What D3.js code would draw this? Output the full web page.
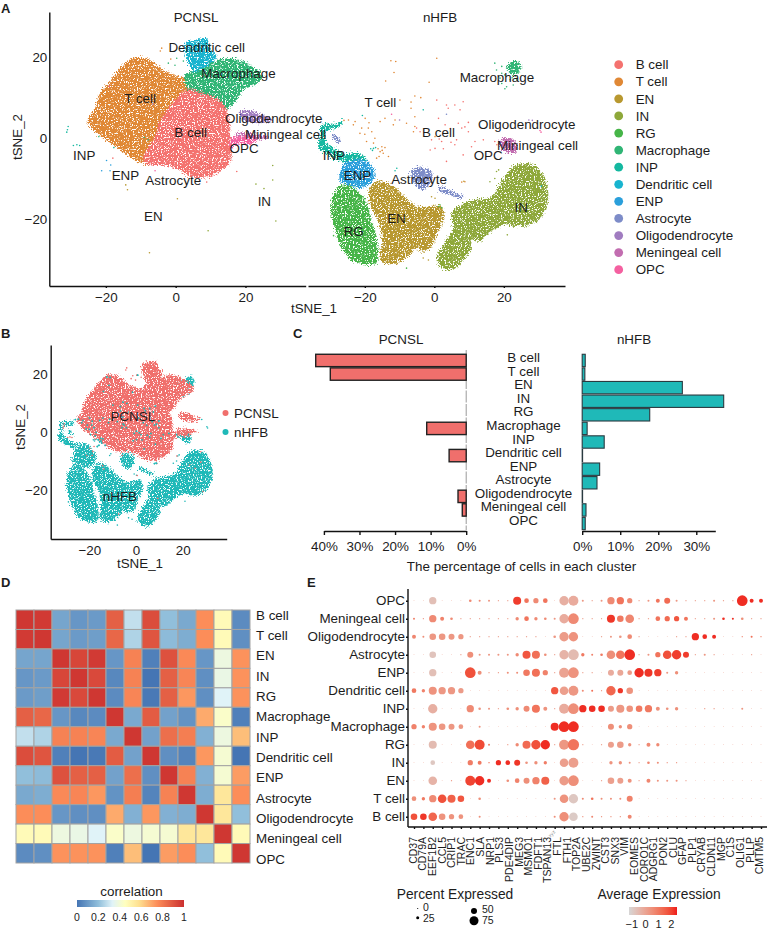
<!DOCTYPE html>
<html><head><meta charset="utf-8">
<script src="https://cdn.jsdelivr.net/npm/d3@7"></script>
<style>
html,body{margin:0;padding:0;background:#fff}
svg{display:block}
text{font-family:"Liberation Sans",Arial,sans-serif;fill:#1c1c1c}
</style></head><body>
<svg id="chart" width="767" height="930"></svg>
<script>
// ---------- DATA ----------
const clusters = ["B cell","T cell","EN","IN","RG","Macrophage","INP","Dendritic cell","ENP","Astrocyte","Oligodendrocyte","Meningeal cell","OPC"];
const clusterColors = ["#f4726f","#e08835","#b8982f","#8ea83a","#46b548","#30b575","#14b8a0","#18b4cf","#2a9fdb","#7d8cc8","#a07cc0","#c26db0","#f460a0"];

// Dense t-SNE clouds are summarised as outlines in t-SNE units.
const pcnslOutlines = [
 ["T cell",[[-25.2,4.1],[-23.1,7.4],[-21.7,11.1],[-19.3,13.5],[-17.4,15.6],[-14.5,18.5],[-11.2,20],[-7.4,19.3],[-2.6,16.4],[2.2,15],[7,14],[9,9],[2.2,1],[-3.5,-5.5],[-7.4,-6.6],[-11.7,-5.3],[-15,-3.3],[-19.3,-.8],[-22.6,1.2]]],
 ["Macrophage",[[3,16],[6,16.8],[9.8,18.5],[14.6,19.7],[19.4,18.9],[25.1,15.2],[22.7,13.1],[19.4,11.9],[17.5,9.4],[15.1,7.4],[11,6.5],[6,9],[3,13]]],
 ["Dendritic cell",[[2.7,23.4],[6,24.2],[8.9,24.6],[9.8,22.2],[11.7,20.1],[7.9,17.2],[5.5,16.4],[3.2,19.7]]],
 ["B cell",[[3.2,11.9],[7.9,11.1],[12.7,9.4],[15.4,4.9],[15.6,0],[15.8,-5.7],[12.7,-8.2],[8.9,-9.7],[4.1,-9.4],[1.2,-7.8],[-3.5,-6.6],[-7.4,-6.6],[-9.3,-4.9],[-6,0],[-4,4.9],[-.7,9]]],
 ["Oligodendrocyte",[[18.4,6.6],[22.2,6.7],[24.9,5.7],[28,4.5],[23.7,3.7],[19.4,4.5]]],
 ["Meningeal cell",[[17.5,1.2],[22.2,1.2],[26.6,.4],[23.2,-.4],[18.4,0]]],
 ["OPC",[[16,0],[20.3,.4],[23.2,-.4],[21.3,-1.6],[18.4,-1.2],[16,-2.5]]]
];
const nhfbOutlines = [
 ["INP",[[-32.4,3.3],[-27.6,3.7],[-26.7,4.5],[-26.5,3.3],[-29.1,2.3],[-31.3,1.6],[-31,-.8],[-27.6,-3.1],[-25.7,-3.9],[-22,-3.7],[-19.6,-4.9],[-19,-6.2],[-22.8,-6.6],[-27.1,-5.6],[-31.4,-3.7],[-33.4,-2.1],[-32.6,.8]]],
 ["RG",[[-29,-14],[-26.7,-11.5],[-22.8,-12.3],[-19.5,-15.6],[-18,-20.5],[-17,-23],[-16,-28.7],[-17,-31],[-22.8,-30.4],[-25.9,-28],[-28.3,-23],[-29.7,-18.1]]],
 ["EN",[[-18.5,-12.3],[-16.6,-10.7],[-12.3,-11.5],[-8,-14.8],[-4.6,-16.8],[2.1,-16.8],[2.9,-19.7],[1,-23.4],[-1,-27.1],[-4,-27.9],[-5,-27],[-7.5,-29.3],[-11.8,-31],[-15.3,-30.2],[-15,-25.5],[-16,-20.5],[-18.4,-16.4]]],
 ["ENP",[[-26.7,-7.4],[-24.8,-5.6],[-19,-5.7],[-16.9,-9],[-19,-11.5],[-21.9,-12.3],[-24.7,-11.3],[-27.1,-10.7]]],
 ["IN",[[5,-18.5],[9.8,-15.6],[16.5,-14.4],[19.4,-10.7],[22.7,-7],[27.5,-6.2],[31.4,-9],[32.8,-14],[31.4,-18.9],[26.1,-21.8],[20.3,-21.3],[16.5,-23],[12.7,-25.5],[10.5,-25],[10.8,-27.1],[8,-30.6],[4,-32.6],[.7,-30.2],[3.1,-25.5],[5.5,-22.2]]],
 ["Astrocyte",[[-6.5,-7.8],[-3.6,-7.2],[-.8,-8.2],[-1,-11.1],[-3.6,-12.7],[-6,-10.7]]],
 ["Astrocyte",[[1.6,-11.9],[5,-13.1],[8.6,-14.6],[7.9,-14.9],[4.5,-14],[1.3,-12.7]]],
 ["Astrocyte",[[-29.1,1.2],[-27.1,-.4],[-26.8,-1.2],[-27.9,-.8],[-29.4,.7]]],
 ["Meningeal cell",[[18.4,-1],[20.3,0],[23.2,-.4],[23.7,-3.3],[21.3,-3.7],[19.8,-2.5]]],
 ["Macrophage",[[21.3,18.2],[23.2,19.3],[25.1,17.7],[23.2,15.6],[21.3,16.4]]]
];
// Individually visible outlier cells: [cluster index, tSNE_1, tSNE_2]
const pcnslStray = [[6,-30.8,2.9],[6,-31.2,1.5],[6,-31,2.1],[6,-29.3,-1.8],[6,-28.3,-1.6],[6,-27.5,-1.8],[8,-19.8,-5.5],[8,-18.6,-6.6],[8,-21.2,-8],[8,-18.8,-8],[0,-18,-4.9],[2,-14.3,-11.5],[2,-13.8,-12.7],[2,.5,-14.9],[2,-7.5,-28.2],[3,27.8,-6.7],[3,27.8,-10.3],[3,23,-11.3],[3,25.3,-12.4],[3,28.7,-20.4],[3,9.3,-22.8],[12,-5.9,-8],[0,17.5,-8.2],[0,8.9,-10.8],[1,-4,22.2],[1,-4.4,21.5],[5,-2.1,18.5],[5,.3,19.7],[5,-.2,18],[5,2.2,19],[6,-17.7,-2.3],[5,-22,.4],[5,-9,.2],[6,-7.9,-.4],[10,-6.5,8.4],[12,-19,12.8],[1,-1.4,19.5]];
const nhfbStray = [[1,-12.5,19.1],[1,-11.1,18.9],[1,-11.6,16.2],[1,-14,14.1],[1,.7,19.7],[1,-1.5,13.8],[1,-9.9,9.4],[1,-5.6,10.4],[1,-3.9,10],[1,-6.7,8.9],[1,-6.7,7.4],[1,-5.6,5.3],[1,-8,3.7],[1,-11.3,4.5],[1,-14.2,4.9],[1,-15.6,4.1],[1,-19.9,4.9],[1,-22.8,4.1],[1,-24.7,4.5],[1,-26,4.4],[1,-23.3,3.3],[1,-20.9,2.5],[1,-19,2.5],[1,-18,1.6],[1,-21.4,1.2],[1,-17.1,0],[1,-19.5,-.8],[1,-17.5,-1.2],[1,-15.1,-2.1],[1,-14.2,-2.3],[1,-15.6,-3.3],[1,-14.7,-3.7],[1,-15.9,-4.5],[1,-13.2,-4.5],[1,-16.6,-4.9],[1,-11.8,3.3],[1,-5.6,2.9],[1,-6,1.6],[1,7.9,-10.8],[1,8.8,-10.7],[1,.2,.4],[1,-18.8,3.8],[1,-20,1],[1,-16.2,-2.6],[1,-15,-3],
 [0,.7,9.4],[0,3.5,8.2],[0,5.9,8.2],[0,7.4,7],[0,8.3,9],[0,4,7.4],[0,1.2,4.9],[0,3.1,3.3],[0,6.9,3.7],[0,9.8,3.9],[0,7.9,2.5],[0,9.8,1.6],[0,6.4,-.4],[0,5.9,-1.6],[0,2.1,-.8],[0,-.8,-.4],[0,.2,-2.5],[0,2.6,-2.6],[0,-1.2,-2.9],[0,-4.1,1.6],[0,-5.1,2.5],[0,11.7,-.8],[0,10.7,-2.1],[0,14.1,-.4],[0,3.5,-5.7],[0,8.3,-4.1],[0,17.4,-.8],[0,18,-1.6],[0,4.6,2.4],[0,1.4,-.2],[0,4.8,-1],[0,8.8,2.8],
 [12,30.7,1.5],[12,30.4,1.9],[10,27.2,4.5],[10,28.2,4.4],[9,3.5,5.9],[12,-12.3,5.9],[10,-10,4.5],
 [6,-17.5,-2.5],[6,-16.9,-2.3],[6,-18.3,-2.6],[6,-11.3,-8],[6,-10.8,-7.4],[6,-3.2,7],[6,-20.7,5.6],[6,-17.8,-3],
 [4,1.2,-16.8],[4,2.1,-17.1],[4,1.6,-16.4],[3,17.9,-8.2],[3,17.4,-9.9],[3,18.5,-7.8],[3,16,-10.7],[3,20,-14.4],[3,21,-23.8],[4,-8,-32],[4,-29,-24],[2,.2,-14.8],[2,-.8,-14.4],[2,-1.7,-30],[2,-3.2,-29.5],[2,8.5,-10.6],[7,30.8,-11.8],
 [5,17.4,18.5],[5,19.4,17.7],[5,20.8,17.3],[5,19.4,16],[5,20.3,15.6],[5,18.9,14.8],[5,21.8,14.4],[5,19.4,13.5],[5,20.8,12.7],[5,22.7,13.1],[5,20.3,12.2],[5,23.7,14.4],[5,17.9,16.8],[5,22.4,14.9],[5,24.3,16.3]];

const facetLabelsA = [
 ["Dendritic cell",8.9,22.4],["Macrophage",18,15.9],["T cell",-10.2,9.9],["Oligodendrocyte",28.1,4.8],["Miningeal cell",31.5,.9],["B cell",4.3,1.5],["OPC",19.6,-2.6],["INP",-26.2,-4.1],["ENP",-14.4,-9.2],["Astrocyte",-.7,-10.3],["EN",-6.4,-19.3],["IN",25.4,-15.6]];
const facetLabelsB = [
 ["Macrophage",18,15.1],["T cell",-15.5,8.9],["Oligodendrocyte",26.6,3.4],["B cell",1.2,1.4],["Miningeal cell",29.7,-1.8],["OPC",15.5,-4.3],["INP",-28.9,-4.2],["ENP",-22.1,-9.2],["Astrocyte",-4.4,-10.2],["EN",-10.9,-19.8],["RG",-23.2,-22.9],["IN",25,-16.9]];

const tsneTicks = [-20,0,20];
const origins = ["PCNSL","nHFB"];
const originColors = ["#f06f6c","#1fb9b8"];
const originLabels = [["PCNSL",-1.4,5.4],["nHFB",-6.9,-22]];

// Panel C: percentage of cells per cluster
const barClusters = ["B cell","T cell","EN","IN","RG","Macrophage","INP","Dendritic cell","ENP","Astrocyte","Oligodendrocyte","Meningeal cell","OPC"];
const pcnslPct = [42.3,38.2,0,0,0,11.1,0,4.8,0,0,2.3,1.1,0];
const nhfbPct  = [.8,.7,26.4,37.3,17.8,1.3,5.8,.1,4.6,3.9,.1,1,.8];
const pcnslPctTicks = [40,30,20,10,0];
const nhfbPctTicks = [0,10,20,30];

// Panel D: correlation matrix
const corrLabels = clusters;
const corrValues = [
 [.98,.97,.13,.09,.10,.87,.28,.92,.20,.14,.75,.47,.06],
 [.97,.98,.13,.10,.11,.85,.25,.90,.19,.15,.75,.47,.07],
 [.13,.13,.98,.94,.97,.09,.78,.03,.91,.76,.09,.38,.74],
 [.09,.10,.94,.98,.93,.05,.78,.00,.87,.77,.07,.37,.74],
 [.10,.11,.97,.93,.98,.06,.77,.01,.87,.73,.07,.33,.74],
 [.87,.85,.09,.05,.06,.98,.14,.88,.12,.08,.69,.43,.03],
 [.28,.25,.78,.78,.77,.14,.98,.12,.83,.79,.16,.38,.65],
 [.92,.90,.03,.00,.01,.88,.12,.98,.07,.04,.73,.41,.00],
 [.20,.19,.91,.87,.87,.12,.83,.07,.98,.78,.16,.41,.72],
 [.14,.15,.76,.77,.73,.08,.79,.04,.78,.98,.15,.55,.75],
 [.75,.75,.09,.07,.07,.69,.16,.73,.16,.15,.98,.55,.20],
 [.47,.47,.38,.37,.33,.43,.38,.41,.41,.55,.55,.98,.47],
 [.06,.07,.74,.74,.74,.03,.65,.00,.72,.75,.20,.47,.98]];
const corrTicks = [0,.2,.4,.6,.8,1];
const corrStopValues = [0,.2,.33,.45,.58,.75,1];
const corrStops = ["#4575b4","#91bfdb","#e0f3f8","#ffffbf","#fee090","#fc8d59","#cb2f2f"];

// Panel E: dot plot
const dotRows = ["OPC","Meningeal cell","Oligodendrocyte","Astrocyte","ENP","Dendritic cell","INP","Macrophage","RG","IN","EN","T cell","B cell"];
const geneLabels = ["CD37","CD79A","EEF1B2","CCL5","CRIP1","TRAC","ENC1","SLA","NRP1","PLS3","PDE4DIP","MEG3","MSMO1","FDFT1","TSPAN13","FTL","FTH1","TOP2A","UBE2C","ZWINT","CST3","SNX3","VIM","EOMES","CORO1C","ADGRG1","PON2","CLU","GFAP","PLP1","CRYAB","CLDN11","MGP","C1S","OLIG1","PLLP","CMTM5"];
const dotPct = [
 [6,6,61,6,6,6,22,17,17,11,11,67,39,44,39,6,78,83,17,11,17,61,61,44,11,17,33,50,17,11,11,11,17,11,11,89,33,33],
 [17,11,61,33,22,11,11,11,11,11,11,28,39,28,22,17,78,89,11,11,11,67,55,72,11,11,39,44,44,33,11,11,17,22,17,22,11,11],
 [33,17,55,55,50,44,11,11,11,11,11,11,11,11,6,22,78,78,6,6,11,17,22,39,11,6,6,6,11,11,61,39,33,6,6,11,17,11],
 [6,6,55,6,6,11,50,17,17,17,17,28,67,67,22,11,78,89,28,17,22,72,72,89,11,17,44,72,78,50,11,17,11,6,6,6,11,6],
 [6,6,61,6,6,6,89,33,11,11,17,17,55,67,44,11,83,89,11,11,6,50,50,39,78,67,61,17,28,6,6,6,6,6,6,6,6,6],
 [39,28,67,61,61,44,6,6,6,6,6,6,6,6,6,61,72,83,17,17,11,78,44,55,6,6,6,6,6,6,6,6,6,6,6,6,6,6],
 [6,6,78,6,6,6,61,22,17,11,22,28,50,67,33,11,83,89,61,55,55,50,67,55,55,61,33,22,28,6,6,11,11,6,6,17,6,6],
 [44,28,67,55,50,39,6,17,6,6,6,6,6,6,6,67,89,89,6,6,6,50,28,44,6,6,6,6,6,6,6,6,6,6,6,6,6,6],
 [6,6,67,6,6,6,72,83,17,6,11,28,67,78,78,11,83,94,11,6,11,50,55,28,11,33,28,6,6,6,6,6,6,6,6,6,6,6],
 [6,6,39,6,6,6,44,33,11,44,39,50,22,28,28,6,72,83,6,6,6,28,28,17,11,22,17,11,11,6,6,6,6,6,6,6,6,6],
 [6,6,72,6,11,6,83,78,33,6,22,39,50,61,67,6,78,89,6,6,11,55,50,33,11,33,17,17,17,11,6,6,6,6,6,6,6,6],
 [39,28,61,72,67,55,6,22,6,6,6,6,6,6,6,17,72,78,17,22,17,17,17,50,6,6,6,6,6,6,6,6,6,6,6,6,6,6],
 [55,55,72,55,44,39,6,17,6,6,6,6,6,6,6,17,78,72,11,17,11,11,11,33,6,6,6,6,6,6,6,6,6,6,6,6,6,6]];
const dotAvg = [
 [.1,.1,-.7,.1,.1,.1,.6,.6,.3,.1,.1,2.1,1.1,.6,1.1,.1,-.3,-.2,.3,.1,.3,.6,1.1,.6,.1,.3,1.1,1.3,.3,.1,.1,.1,.3,.1,.1,2.3,2.3,2.3],
 [.8,.3,.6,.8,.6,.1,.1,.1,.1,.1,.1,.6,1.1,.6,.6,.3,-.2,.6,.1,.1,.1,2.2,1,.7,.1,.1,1.1,1.3,1.7,1.1,.1,.1,.3,2.3,2.3,.5,.1,.1],
 [.7,.5,.3,.3,.3,.3,.1,.1,.1,.1,.1,.1,.1,.1,.1,.3,.2,.4,.1,.1,.1,.3,.3,.6,.1,.1,.1,.1,.1,.1,2.3,2.3,2.3,.1,.1,.8,1.2,.8],
 [.1,.1,-.8,.1,.1,.1,.5,.3,.3,.3,.3,.6,1.7,1.2,.5,.1,-.4,-.6,1,.8,1,.5,1.1,2.3,.1,.3,1.1,1.8,2.1,2.1,.1,.3,.1,.1,.1,.1,.1,.1],
 [.1,.1,-.7,.1,.1,.1,1.8,.5,.3,.3,.5,.5,1,1.2,.8,.1,0,.4,.1,.1,.1,-.2,-.1,.2,2.3,2.2,2.1,.3,.5,.1,.1,.1,.1,.1,.1,.1,.1,.1],
 [1,.8,.4,.3,.3,.2,.1,.1,.1,.1,.1,.1,.1,.1,.1,1.7,.1,.3,.6,1.2,.3,1.4,2.2,.4,.1,.1,.1,.1,.1,.1,.1,.1,.1,.1,.1,.1,.1,.1],
 [.1,.1,-.3,.1,.1,.1,.6,.3,.3,.1,.5,.5,.6,1.1,.4,.1,-.2,.5,2.3,2.3,2.3,.2,.3,.4,1,1,.5,.4,.5,.1,.1,.3,.3,.1,.1,.3,.1,.1],
 [.8,.8,.4,.3,.3,.3,.1,.3,.1,.1,.1,.1,.1,.1,.1,2.3,2.3,2.3,.1,.1,.1,.5,.5,.5,.1,.1,.1,.1,.1,.1,.1,.1,.1,.1,.1,.1,.1,.1],
 [.1,.1,-.6,.1,.1,.1,1.2,1.9,.8,.1,.3,.6,1.3,1.8,2.3,.1,.3,1.1,.1,.1,.1,.1,.2,.4,.1,.6,.6,.1,.1,.1,.1,.1,.1,.1,.1,.1,.1,.1],
 [.1,.1,-.9,.1,.1,.1,.9,1,1.5,2.3,2.3,2.2,.4,.5,.9,.1,.1,.1,.1,.1,.1,.4,.4,.3,.1,.7,.5,.4,.4,.1,.1,.1,.1,.1,.1,.1,.1,.1],
 [.1,.1,-.4,.1,.3,.1,2,2.3,2.3,.1,.5,.8,.5,.8,1.5,.1,.2,.5,.1,.1,.1,.1,.1,.4,.1,.7,.4,.3,.4,.1,.1,.1,.1,.1,.1,.1,.1,.1],
 [.5,1,.6,1.8,1.5,1.7,.1,.5,.1,.1,.1,.1,.1,.1,.1,.3,.4,-.9,.6,1.1,.5,.5,.5,.8,.1,.1,.1,.1,.1,.1,.1,.1,.1,.1,.1,.1,.1,.1],
 [1.8,2.2,1.4,.4,.4,.4,.1,.5,.1,.1,.1,.1,.1,.1,.1,.5,.5,-1,.5,.7,.5,.5,.5,.7,.1,.1,.1,.1,.1,.1,.1,.1,.1,.1,.1,.1,.1,.1]];
const pctLegend = [0,25,50,75];
const avgLegendTicks = [-1,0,1,2];

// ---------- DRAWING ----------
const svg = d3.select("#chart");
const defs = svg.append("defs");
const FONT = 13.4;

// Grain filter: purely visual, it roughens outlines so they read as point clouds.
const grain = defs.append("filter").attr("id","grain").attr("x","-10%").attr("y","-10%").attr("width","120%").attr("height","120%")
  .attr("color-interpolation-filters","sRGB");
grain.append("feTurbulence").attr("type","fractalNoise").attr("baseFrequency",.75).attr("numOctaves",2).attr("seed",4).attr("result","n");
grain.append("feDisplacementMap").attr("in","SourceGraphic").attr("in2","n").attr("scale",9).attr("xChannelSelector","R").attr("yChannelSelector","G").attr("result","d");
grain.append("feColorMatrix").attr("in","n").attr("type","matrix").attr("values","0 0 0 0 0 0 0 0 0 0 0 0 0 0 0 9 0 0 0 -2.9").attr("result","mask");
grain.append("feComposite").attr("in","d").attr("in2","mask").attr("operator","in");

const colorOf = name => clusterColors[clusters.indexOf(name)];
const outlinePath = (x,y) => d3.line().x(d=>x(d[0])).y(d=>y(d[1])).curve(d3.curveCatmullRomClosed.alpha(.5));

function label(g,x,y,s,opts={}){
  return g.append("text").attr("x",x).attr("y",y).attr("dy","0.35em")
    .attr("text-anchor",opts.anchor||"middle").attr("font-size",opts.size||FONT).attr("font-weight",opts.weight||null).text(s);
}
function styleAxis(g,size=FONT){
  g.selectAll("path,line").attr("stroke","#111").attr("stroke-width",1.4);
  g.selectAll("text").attr("font-size",size).attr("fill","#1c1c1c");
  return g;
}
function cloud(g,outlines,x,y,fill){
  g.append("g").attr("filter","url(#grain)").selectAll("path").data(outlines).join("path")
    .attr("d",d=>outlinePath(x,y)(d[1])).attr("fill",d=>fill(d[0]));
}
function stray(g,points,x,y,fill){
  g.append("g").selectAll("circle").data(points).join("circle")
    .attr("cx",d=>x(d[1])).attr("cy",d=>y(d[2])).attr("r",.8).attr("fill",d=>fill(clusters[d[0]]));
}

// Panel letters
[["A",1,8],["B",1,333],["C",293,333],["D",1,582],["E",307,582]].forEach(d=>label(svg,d[1],d[2],d[0],{anchor:"start",weight:"bold",size:13}));

// ----- Panel A -----
const yA = d3.scaleLinear().domain([31.1,-36.4]).range([12,286]);
const xA1 = d3.scaleLinear().domain([-36.2,37.25]).range([49.3,305.7]);
const xA2 = d3.scaleLinear().domain([-36.35,37.6]).range([308,565]);
const A = svg.append("g");
cloud(A,pcnslOutlines,xA1,yA,colorOf);
stray(A,pcnslStray,xA1,yA,colorOf);
cloud(A,nhfbOutlines,xA2,yA,colorOf);
stray(A,nhfbStray,xA2,yA,colorOf);
[[xA1,facetLabelsA],[xA2,facetLabelsB]].forEach(([x,labs])=>labs.forEach(d=>label(A,x(d[1]),yA(d[2]),d[0])));
styleAxis(A.append("g").attr("transform","translate(49.3,0)").call(d3.axisLeft(yA).tickValues(tsneTicks).tickSize(0).tickPadding(2)));
styleAxis(A.append("g").attr("transform","translate(0,286)").call(d3.axisBottom(xA1).tickValues(tsneTicks).tickSize(2).tickPadding(4).tickSizeOuter(0)));
styleAxis(A.append("g").attr("transform","translate(0,286)").call(d3.axisBottom(xA2).tickValues(tsneTicks).tickSize(2).tickPadding(4).tickSizeOuter(0)));
label(A,196,17,origins[0]);
label(A,440,17,origins[1]);
label(A,314,308,"tSNE_1");
A.append("text").attr("transform","translate(17,137) rotate(-90)").attr("text-anchor","middle").attr("dy","0.35em").attr("font-size",FONT).text("tSNE_2");
const legY = d3.scalePoint().domain(clusters).range([64.7,269.7]);
const leg = A.append("g");
clusters.forEach((c,i)=>{
  leg.append("circle").attr("cx",618.7).attr("cy",legY(c)).attr("r",4.4).attr("fill",clusterColors[i]);
  label(leg,635.7,legY(c),c,{anchor:"start"});
});

// ----- Panel B -----
const xB = d3.scaleLinear().domain([-36.6,38.9]).range([50.7,226.7]);
const yB = d3.scaleLinear().domain([30.1,-36.8]).range([345,539]);
const B = svg.append("g");
cloud(B,nhfbOutlines,xB,yB,()=>originColors[1]);
stray(B,nhfbStray,xB,yB,()=>originColors[1]);
cloud(B,pcnslOutlines,xB,yB,()=>originColors[0]);
stray(B,pcnslStray,xB,yB,()=>originColors[0]);
B.append("g").selectAll("circle").data(nhfbStray.filter(d=>d[0]<2)).join("circle")
  .attr("cx",d=>xB(d[1])).attr("cy",d=>yB(d[2])).attr("r",.9).attr("fill",originColors[1]);
originLabels.forEach(d=>label(B,xB(d[1]),yB(d[2]),d[0]));
styleAxis(B.append("g").attr("transform","translate(50.7,0)").call(d3.axisLeft(yB).tickValues(tsneTicks).tickSize(0).tickPadding(3)));
styleAxis(B.append("g").attr("transform","translate(0,539)").call(d3.axisBottom(xB).tickValues(tsneTicks).tickSize(0).tickPadding(6).tickSizeOuter(0)));
label(B,140,563,"tSNE_1");
B.append("text").attr("transform","translate(20,427) rotate(-90)").attr("text-anchor","middle").attr("dy","0.35em").attr("font-size",FONT).text("tSNE_2");
origins.forEach((o,i)=>{
  const y=[413,432][i];
  B.append("circle").attr("cx",225.5).attr("cy",y).attr("r",3).attr("fill",originColors[i]);
  label(B,234,y,o,{anchor:"start"});
});

// ----- Panel C -----
const C = svg.append("g");
const yC = d3.scaleBand().domain(barClusters).range([354,530]).paddingInner(.09).paddingOuter(0.02);
const catY = d3.scalePoint().domain(barClusters).range([357.7,520]);
const xCL = d3.scaleLinear().domain([0,40]).range([466.2,323.9]);
const xCR = d3.scaleLinear().domain([0,30]).range([582.2,696]);
C.append("line").attr("x1",xCL(0)).attr("x2",xCL(0)).attr("y1",350).attr("y2",530).attr("stroke","#9a9a9a").attr("stroke-width",1).attr("stroke-dasharray","12 1.5");
C.selectAll(".bl").data(barClusters).join("rect").attr("class","bl")
  .filter((d,i)=>pcnslPct[i]>0)
  .attr("x",d=>xCL(pcnslPct[barClusters.indexOf(d)])).attr("y",d=>yC(d)).attr("width",d=>xCL(0)-xCL(pcnslPct[barClusters.indexOf(d)])).attr("height",yC.bandwidth())
  .attr("fill",originColors[0]).attr("stroke","#222").attr("stroke-width",1.4);
C.selectAll(".br").data(barClusters).join("rect").attr("class","br")
  .attr("x",xCR(0)).attr("y",d=>yC(d)).attr("width",d=>xCR(nhfbPct[barClusters.indexOf(d)])-xCR(0)).attr("height",yC.bandwidth())
  .attr("fill",originColors[1]).attr("stroke","#2a3a40").attr("stroke-width",1.1);
barClusters.forEach(c=>label(C,523.5,catY(c),c));
styleAxis(C.append("g").attr("transform","translate(0,531)").call(d3.axisBottom(xCL).tickValues(pcnslPctTicks).tickFormat(d=>d+"%").tickSize(4).tickPadding(6).tickSizeOuter(0)));
styleAxis(C.append("g").attr("transform","translate(0,531)").call(d3.axisBottom(d3.scaleLinear().domain([0,35]).range([582.2,715.3])).tickValues(nhfbPctTicks).tickFormat(d=>d+"%").tickSize(4).tickPadding(6).tickSizeOuter(0)));
label(C,401,339,origins[0]);
label(C,634,339,origins[1]);
label(C,521.5,566,"The percentage of cells in each cluster");

// ----- Panel D -----
const D = svg.append("g");
const xD = d3.scaleBand().domain(corrLabels).range([16,250]);
const yD = d3.scaleBand().domain(corrLabels).range([610,863]);
const corrColor = d3.scaleLinear().domain(corrStopValues).range(corrStops).interpolate(d3.interpolateRgb);
corrValues.forEach((row,i)=>D.append("g").selectAll("rect").data(row).join("rect")
  .attr("x",(d,j)=>xD(corrLabels[j])).attr("y",yD(corrLabels[i])).attr("width",xD.bandwidth()).attr("height",yD.bandwidth())
  .attr("fill",d=>corrColor(d)).attr("stroke","#a3a3a3").attr("stroke-width",1));
const corrLabY = d3.scalePoint().domain(corrLabels).range([615,859]);
corrLabels.forEach(c=>label(D,256,corrLabY(c),c,{anchor:"start"}));
const gradD = defs.append("linearGradient").attr("id","gradD");
corrStops.forEach((c,i)=>gradD.append("stop").attr("offset",corrStopValues[i]).attr("stop-color",c));
const xCorr = d3.scaleLinear().domain([0,1]).range([77,184]);
D.append("rect").attr("x",77).attr("y",900).attr("width",107).attr("height",7).attr("fill","url(#gradD)");
corrTicks.forEach(t=>label(D,xCorr(t),917,d3.format("~g")(t),{size:10.5}));
label(D,131.5,891,"correlation");

// ----- Panel E -----
const E = svg.append("g");
const xE = d3.scalePoint().domain(d3.range(dotPct[0].length)).range([414,761]);
const yE = d3.scalePoint().domain(dotRows).range([600.7,816.7]);
const rE = d3.scaleLinear().domain([0,100]).range([0,6]);
const avgColor = d3.scaleLinear().domain([-1.3,2.45]).range(["#d6d6d6","#ee1c1c"]).interpolate(d3.interpolateLab);
dotRows.forEach((row,i)=>E.append("g").selectAll("circle").data(dotPct[i]).join("circle")
  .attr("cx",(d,j)=>xE(j)).attr("cy",yE(row)).attr("r",d=>rE(d)).attr("fill",(d,j)=>avgColor(dotAvg[i][j])));
const axE = styleAxis(E.append("g").attr("transform","translate(408,0)").call(d3.axisLeft(yE).tickSize(2).tickPadding(1).tickSizeOuter(0)));
axE.select("path").attr("d","M0,589V827");
styleAxis(E.append("g").attr("transform","translate(0,827)").call(d3.axisBottom(xE).tickSize(2).tickFormat("").tickSizeOuter(0))).select("path").attr("d","M408,0H767");
const xGene = d3.scalePoint().domain(geneLabels).range([413,759.5]);
E.append("g").selectAll("text").data(geneLabels).join("text")
  .attr("transform",d=>`translate(${xGene(d)},837) rotate(-90)`).attr("dy","0.35em").attr("text-anchor","end").attr("font-size",10.5).text(d=>d);
E.append("text").attr("transform","translate(553,835) rotate(-45)").attr("text-anchor","middle").attr("font-size",5).style("fill","#8a8a8a").text("xyz");
label(E,455,894,"Percent Expressed",{size:13.8});
label(E,659,894,"Average Expression",{size:13.8});
const pctPos = [[417.7,908.5,423,907.5],[417.7,917.7,423,918],[474,911,482,909.5],[474,920.7,482,920.5]];
pctLegend.forEach((p,i)=>{
  E.append("circle").attr("cx",pctPos[i][0]).attr("cy",pctPos[i][1]).attr("r",Math.max(rE(p),.6)).attr("fill","#000");
  label(E,pctPos[i][2],pctPos[i][3],p,{anchor:"start",size:10.5});
});
const xAvg = d3.scaleLinear().domain([-1.3,2.45]).range([629,677]);
const gradE = defs.append("linearGradient").attr("id","gradE");
d3.range(0,1.001,.1).forEach(o=>gradE.append("stop").attr("offset",o).attr("stop-color",avgColor(-1.3+o*3.75)));
E.append("rect").attr("x",629).attr("y",907).attr("width",48).attr("height",8).attr("fill","url(#gradE)");
avgLegendTicks.forEach(t=>label(E,xAvg(t)+(t<0?-1:0),924,d3.format("~g")(t).replace("-","−"),{size:11}));
</script>
</body></html>
